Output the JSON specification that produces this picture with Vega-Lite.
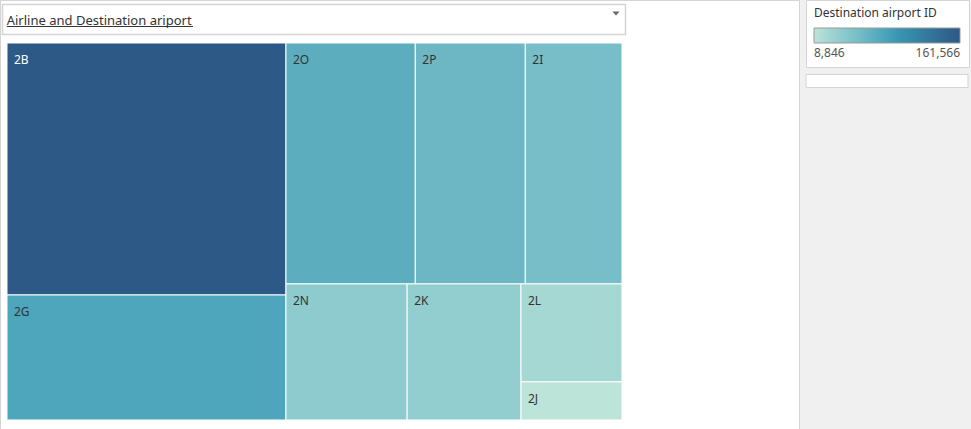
{
  "$schema": "https://vega.github.io/schema/vega-lite/v6.json",
  "width": 799,
  "height": 429,
  "autosize": {"type": "none"},
  "padding": {"left": 0, "top": 0, "right": 172, "bottom": 0},
  "background": "#f0f0f0",
  "config": {
    "view": {"fill": "white", "stroke": "#d4d4d4", "strokeWidth": 1},
    "font": "Noto Sans"
  },
  "layer": [
    {
      "data": {
        "values": [
          {"airline": "2B", "value": 161566, "p1": "A", "p2": "2B", "p3": "2B"},
          {"airline": "2G", "value": 80156, "p1": "A", "p2": "2G", "p3": "2G"},
          {"airline": "2O", "value": 71604, "p1": "B", "p2": "Top", "p3": "2O"},
          {"airline": "2P", "value": 60918, "p1": "B", "p2": "Top", "p3": "2P"},
          {"airline": "2I", "value": 53551, "p1": "B", "p2": "Top", "p3": "2I"},
          {"airline": "2N", "value": 37900, "p1": "B", "p2": "Bottom", "p3": "2N"},
          {"airline": "2K", "value": 35620, "p1": "B", "p2": "Bottom", "p3": "2K"},
          {"airline": "2L", "value": 22743, "p1": "B", "p2": "Bottom", "p3": "C"},
          {"airline": "2J", "value": 8846, "p1": "B", "p2": "Bottom", "p3": "C"}
        ]
      },
      "transform": [
        {"window": [{"op": "row_number", "as": "ord"}]},
        {"joinaggregate": [{"op": "sum", "field": "value", "as": "total"}]},
        {"joinaggregate": [{"op": "sum", "field": "value", "as": "s1"}], "groupby": ["p1"]},
        {"joinaggregate": [{"op": "sum", "field": "value", "as": "s2"}], "groupby": ["p1", "p2"]},
        {"joinaggregate": [{"op": "sum", "field": "value", "as": "s3"}], "groupby": ["p1", "p2", "p3"]},
        {"window": [{"op": "sum", "field": "value", "as": "c1"}], "sort": [{"field": "ord"}], "frame": [null, 0]},
        {"window": [{"op": "sum", "field": "value", "as": "c2"}], "groupby": ["p1"], "sort": [{"field": "ord"}], "frame": [null, 0]},
        {"window": [{"op": "sum", "field": "value", "as": "c3"}], "groupby": ["p1", "p2"], "sort": [{"field": "ord"}], "frame": [null, 0]},
        {"window": [{"op": "sum", "field": "value", "as": "c4"}], "groupby": ["p1", "p2", "p3"], "sort": [{"field": "ord"}], "frame": [null, 0]},
        {"calculate": "datum.c1 - datum.value", "as": "e1"},
        {"calculate": "datum.c2 - datum.value", "as": "e2"},
        {"calculate": "datum.c3 - datum.value", "as": "e3"},
        {"calculate": "datum.c4 - datum.value", "as": "e4"},
        {"joinaggregate": [{"op": "min", "field": "e1", "as": "o1"}], "groupby": ["p1"]},
        {"joinaggregate": [{"op": "min", "field": "e2", "as": "o2"}], "groupby": ["p1", "p2"]},
        {"joinaggregate": [{"op": "min", "field": "e3", "as": "o3"}], "groupby": ["p1", "p2", "p3"]},
        {"calculate": "datum.o1 / datum.total", "as": "gx0"},
        {"calculate": "(datum.o1 + datum.s1) / datum.total", "as": "gx1"},
        {"calculate": "datum.o2 / datum.s1", "as": "gy0"},
        {"calculate": "(datum.o2 + datum.s2) / datum.s1", "as": "gy1"},
        {"calculate": "datum.gx0 + (datum.gx1 - datum.gx0) * datum.o3 / datum.s2", "as": "X0"},
        {"calculate": "datum.gx0 + (datum.gx1 - datum.gx0) * (datum.o3 + datum.s3) / datum.s2", "as": "X1"},
        {"calculate": "datum.gy0 + (datum.gy1 - datum.gy0) * datum.e4 / datum.s3", "as": "Y0"},
        {"calculate": "datum.gy0 + (datum.gy1 - datum.gy0) * (datum.e4 + datum.value) / datum.s3", "as": "Y1"}
      ],
      "encoding": {
        "x": {"field": "X0", "type": "quantitative", "axis": null,
              "scale": {"domain": [-0.011382, 1.287805], "nice": false, "zero": false}},
        "y": {"field": "Y0", "type": "quantitative", "axis": null,
              "scale": {"domain": [-0.114058, 1.023873], "nice": false, "zero": false, "reverse": true}}
      },
      "layer": [
        {
          "mark": {"type": "rect", "stroke": "white", "strokeWidth": 1},
          "encoding": {
            "x2": {"field": "X1"},
            "y2": {"field": "Y1"},
            "color": {
              "field": "value", "type": "quantitative",
              "scale": {"scheme": "tealblues", "domain": [8846, 161566], "nice": false},
              "legend": {
                "title": "Destination airport ID",
                "orient": "none",
                "legendX": 806,
                "legendY": 0,
                "direction": "horizontal",
                "values": [8846, 161566],
                "format": ",d",
                "gradientLength": 146,
                "gradientThickness": 15,
                "gradientStrokeColor": "#999999",
                "gradientStrokeWidth": 1,
                "fillColor": "white",
                "strokeColor": "#d4d4d4",
                "padding": 8,
                "titleFontSize": 12,
                "titleFontWeight": "normal",
                "titleColor": "#333333",
                "titlePadding": 8,
                "labelFontSize": 12,
                "labelColor": "#555555",
                "labelOffset": 5
              }
            },
            "tooltip": [{"field": "airline"}, {"field": "value", "format": ","}]
          }
        },
        {
          "mark": {"type": "text", "align": "left", "baseline": "middle", "dx": 7, "dy": 17, "fontSize": 12},
          "encoding": {
            "text": {"field": "airline"},
            "color": {"condition": {"test": "datum.value > 120000", "value": "white"}, "value": "#333333"}
          }
        }
      ]
    },
    {
      "data": {"values": [{"label": "Airline and Destination ariport"}]},
      "layer": [
        {
          "mark": {"type": "rect", "fill": "white", "stroke": "#d4d4d4", "strokeWidth": 1.5},
          "encoding": {
            "x": {"datum": -0.007317, "type": "quantitative", "scale": {"domain": [-0.011382, 1.287805], "nice": false, "zero": false}},
            "x2": {"datum": 1.005691},
            "y": {"datum": -0.102122, "type": "quantitative", "scale": {"domain": [-0.114058, 1.023873], "nice": false, "zero": false, "reverse": true}},
            "y2": {"datum": -0.022546}
          }
        },
        {
          "mark": {"type": "text", "align": "left", "baseline": "alphabetic", "fontSize": 13, "color": "#333333"},
          "encoding": {
            "x": {"datum": -0.000488, "type": "quantitative", "scale": {"domain": [-0.011382, 1.287805], "nice": false, "zero": false}},
            "y": {"datum": -0.047745, "type": "quantitative", "scale": {"domain": [-0.114058, 1.023873], "nice": false, "zero": false, "reverse": true}},
            "text": {"field": "label"}
          }
        },
        {
          "mark": {"type": "rule", "color": "#333333", "strokeWidth": 1},
          "encoding": {
            "x": {"datum": -0.000488, "type": "quantitative", "scale": {"domain": [-0.011382, 1.287805], "nice": false, "zero": false}},
            "x2": {"datum": 0.302439},
            "y": {"datum": -0.043767, "type": "quantitative", "scale": {"domain": [-0.114058, 1.023873], "nice": false, "zero": false, "reverse": true}}
          }
        },
        {
          "mark": {"type": "point", "shape": "M-1,-0.6L1,-0.6L0,0.6Z", "filled": true, "color": "#666666", "size": 50, "opacity": 1},
          "encoding": {
            "x": {"datum": 0.990244, "type": "quantitative", "scale": {"domain": [-0.011382, 1.287805], "nice": false, "zero": false}},
            "y": {"datum": -0.078249, "type": "quantitative", "scale": {"domain": [-0.114058, 1.023873], "nice": false, "zero": false, "reverse": true}}
          }
        },
        {
          "mark": {"type": "rect", "fill": "white", "stroke": "#d4d4d4", "strokeWidth": 1},
          "encoding": {
            "x": {"datum": 1.29919, "type": "quantitative", "scale": {"domain": [-0.011382, 1.287805], "nice": false, "zero": false}},
            "x2": {"datum": 1.5626},
            "y": {"datum": 0.08355, "type": "quantitative", "scale": {"domain": [-0.114058, 1.023873], "nice": false, "zero": false, "reverse": true}},
            "y2": {"datum": 0.11804}
          }
        }
      ]
    }
  ]
}
